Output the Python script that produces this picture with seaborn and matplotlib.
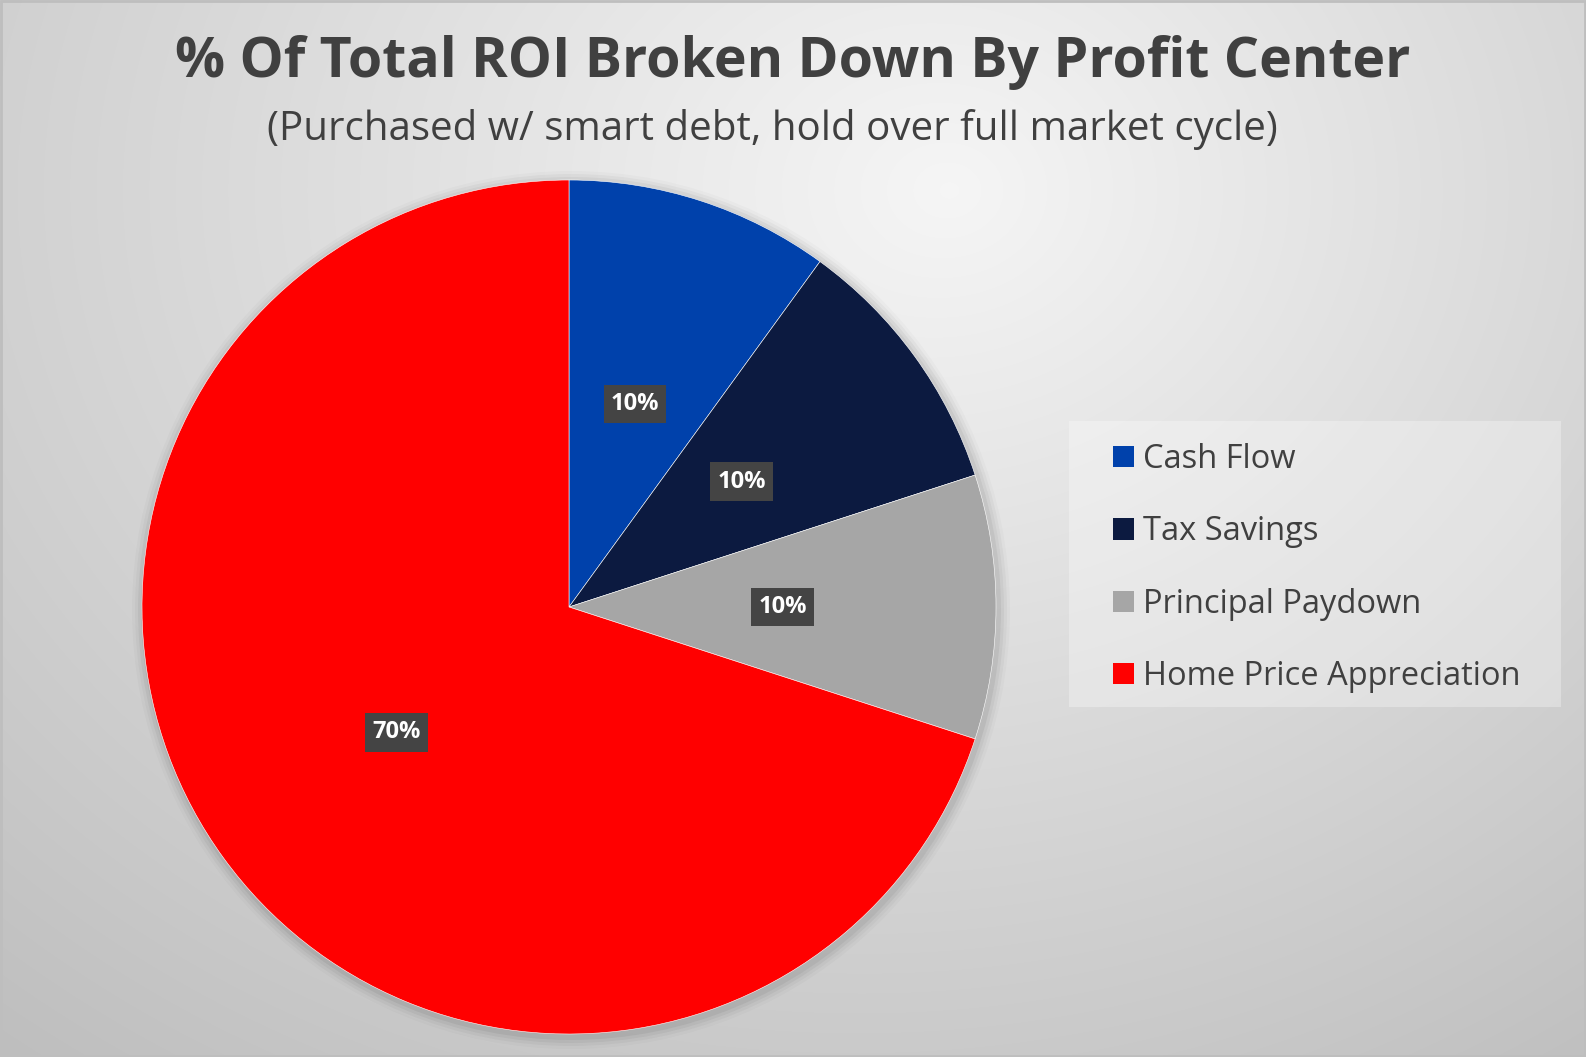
import matplotlib.pyplot as plt
import matplotlib.patches as mpatches
import seaborn as sns
import numpy as np

# chart data
categories = ["Cash Flow", "Tax Savings", "Principal Paydown", "Home Price Appreciation"]
shares = [10, 10, 10, 70]
slice_colors = ["#0041AB", "#0C1A40", "#A6A6A6", "#FF0000"]

title = "% Of Total ROI Broken Down By Profit Center"
subtitle = "(Purchased w/ smart debt, hold over full market cycle)"

sns.set_theme(style="white")
plt.rcParams['font.family'] = ['Open Sans', 'DejaVu Sans']
palette = sns.color_palette(slice_colors)

W, H = 1586, 1057
fig = plt.figure(figsize=(W / 100, H / 100), dpi=100)

# background gradient (light near upper middle, gray toward edges)
bg = fig.add_axes([0, 0, 1, 1], zorder=0)
yy, xx = np.mgrid[0:H, 0:W]
r = np.sqrt(((xx - 950) / 1.15) ** 2 + ((yy - 190) / 0.95) ** 2)
shade = 249 - 48 * np.clip(r / 1000, 0, 1.3) - 6 * (xx / W)
shade = np.clip(shade, 190, 250) / 255
bg.imshow(np.dstack([shade, shade, shade]), extent=(0, W, H, 0), aspect='auto')
bg.set_xlim(0, W)
bg.set_ylim(H, 0)
bg.axis('off')
bg.add_patch(mpatches.Rectangle((1, 1), W - 2, H - 2, fill=False, edgecolor='#BEBEBE', lw=2))

# soft shadow behind the pie
cx, cy, rad = 569, 607, 427
for i, a in enumerate([0.05, 0.04, 0.03, 0.02]):
    bg.add_patch(mpatches.Circle((cx + 2, cy + 3), rad + 3 + i * 3, color='black', alpha=a, lw=0))

# legend background
bg.add_patch(mpatches.Rectangle((1069, 421), 492, 286, facecolor='white', alpha=0.3, lw=0))

ax = fig.add_axes([(cx - rad) / W, (H - cy - rad) / H, 2 * rad / W, 2 * rad / H], zorder=2)
wedges, texts, autotexts = ax.pie(
    shares, colors=palette, startangle=90, counterclock=False,
    autopct='%d%%', pctdistance=0.5,
    wedgeprops=dict(edgecolor='white', linewidth=0.4),
    textprops=dict(color='white', fontsize=17, fontweight='bold'),
)
for t in autotexts:
    t.set_bbox(dict(boxstyle='square,pad=0.3', facecolor='#444444', edgecolor='none'))
ax.set_xlim(-1, 1)
ax.set_ylim(-1, 1)
ax.set_aspect('equal')

fig.text(0.5, 1 - 62 / H, title, ha='center', va='center', fontsize=40,
         fontweight='bold', color='#404040')
fig.text(772 / W, 1 - 129 / H, subtitle, ha='center', va='center', fontsize=29,
         color='#404040')

handles = [mpatches.Patch(facecolor=c, edgecolor='none') for c in palette]
fig.legend(handles, categories, loc='center left',
           bbox_to_anchor=(1084 / W, 1 - 568 / H), frameon=False,
           fontsize=23.5, labelcolor='#404040', handlelength=0.62, handleheight=0.62,
           handletextpad=0.3, labelspacing=1.2)

fig.savefig("out.png", dpi=100)
